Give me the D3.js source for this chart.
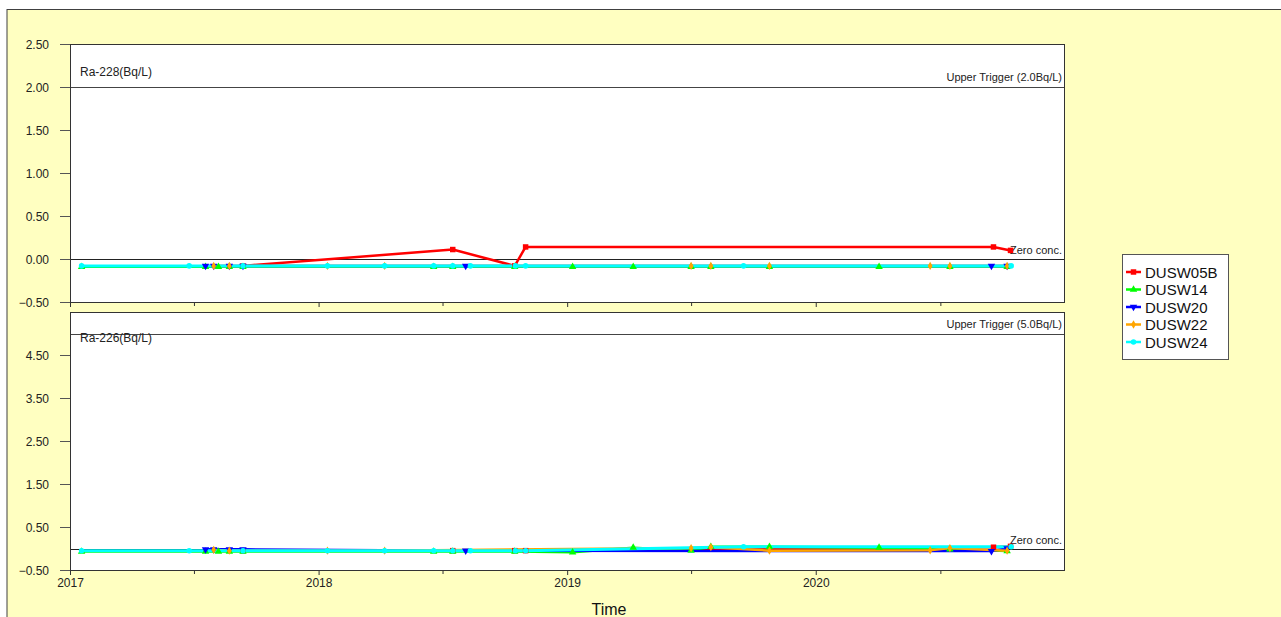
<!DOCTYPE html>
<html>
<head>
<meta charset="utf-8">
<script src="https://cdn.jsdelivr.net/npm/d3@7"></script>
<style>
  html, body { margin: 0; padding: 0; background: #ffffff; }
  svg { display: block; font-family: "Liberation Sans", Arial, sans-serif; }
</style>
</head>
<body>
<svg id="chart" width="1281" height="617"></svg>
<script>
// Sampling dates and results for each monitoring point
const seriesNames = ["DUSW05B", "DUSW14", "DUSW20", "DUSW22", "DUSW24"];
const seriesColors = ["#ff0000", "#00ff00", "#0000ff", "#ffa500", "#00ffff"];

const datesDUSW05B = ["2017-09-12", "2018-07-17", "2018-10-16", "2018-11-01", "2020-09-18", "2020-10-13"];
const ra228DUSW05B = [-0.08, 0.11, -0.08, 0.14, 0.14, 0.10];
const ra226DUSW05B = [-0.05, -0.05, -0.05, -0.05, 0.03, 0.05];

const datesDUSW14 = ["2017-01-18", "2017-07-19", "2017-08-07", "2017-08-23", "2017-09-12", "2018-06-19", "2018-07-17", "2018-10-16",
                     "2019-01-09", "2019-04-08", "2019-07-02", "2019-07-31", "2019-10-25", "2020-04-03", "2020-07-16", "2020-10-08"];
const ra228DUSW14 = [-0.09, -0.09, -0.09, -0.09, -0.09, -0.09, -0.09, -0.09, -0.09, -0.09, -0.09, -0.09, -0.09, -0.09, -0.09, -0.09];
const ra226DUSW14 = [-0.07, -0.07, -0.07, -0.07, -0.07, -0.07, -0.07, -0.07, -0.09, 0.02, -0.05, 0.04, 0.04, 0.02, -0.02, -0.06];

const datesDUSW20 = ["2017-07-19", "2017-07-31", "2017-08-23", "2017-09-12", "2018-08-05", "2020-09-15", "2020-10-08"];
const ra228DUSW20 = [-0.08, -0.08, -0.08, -0.08, -0.08, -0.08, -0.08];
const ra226DUSW20 = [-0.02, -0.02, -0.02, -0.02, -0.05, -0.06, 0.00];

const datesDUSW22 = ["2017-07-31", "2017-08-23", "2018-01-14", "2018-04-08", "2019-07-02", "2019-07-31", "2019-10-25",
                     "2020-06-17", "2020-07-16", "2020-10-08"];
const ra228DUSW22 = [-0.08, -0.08, -0.08, -0.08, -0.08, -0.08, -0.08, -0.08, -0.08, -0.08];
const ra226DUSW22 = [-0.03, -0.05, -0.05, -0.05, 0.01, 0.03, -0.05, -0.04, 0.01, -0.05];

const datesDUSW24 = ["2017-01-18", "2017-06-25", "2017-09-12", "2018-01-14", "2018-04-08", "2018-06-19", "2018-07-17",
                     "2018-08-12", "2018-10-17", "2018-11-01", "2019-09-17", "2020-10-14"];
const ra228DUSW24 = [-0.08, -0.08, -0.08, -0.08, -0.08, -0.08, -0.08, -0.08, -0.08, -0.08, -0.08, -0.08];
const ra226DUSW24 = [-0.05, -0.05, -0.05, -0.05, -0.05, -0.05, -0.05, -0.05, -0.05, -0.05, 0.04, 0.04];

const ra228Ticks = [-0.5, 0, 0.5, 1.0, 1.5, 2.0, 2.5];
const ra226Ticks = [-0.5, 0.5, 1.5, 2.5, 3.5, 4.5];
const yearTicks = ["2017-01-01", "2018-01-01", "2019-01-01", "2020-01-01"];
const halfYearTicks = ["2017-07-02", "2018-07-02", "2019-07-02", "2020-07-02"];

const panels = [
  { title: "Ra-228(Bq/L)", trigger: 2.0, triggerLabel: "Upper Trigger (2.0Bq/L)", domain: [-0.5, 2.5], ticks: ra228Ticks,
    values: [ra228DUSW05B, ra228DUSW14, ra228DUSW20, ra228DUSW22, ra228DUSW24] },
  { title: "Ra-226(Bq/L)", trigger: 5.0, triggerLabel: "Upper Trigger (5.0Bq/L)", domain: [-0.5, 5.5], ticks: ra226Ticks,
    values: [ra226DUSW05B, ra226DUSW14, ra226DUSW20, ra226DUSW22, ra226DUSW24] }
];
const dateLists = [datesDUSW05B, datesDUSW14, datesDUSW20, datesDUSW22, datesDUSW24];

const parse = d3.timeParse("%Y-%m-%d");
const svg = d3.select("#chart");

// frame
svg.append("rect").attr("x", 7).attr("y", 9.5).attr("width", 1290).attr("height", 620)
  .attr("fill", "#ffffc1").attr("stroke", "#404040").attr("stroke-width", 1);

const plotLeft = 70, plotRight = 1065;
const x = d3.scaleTime().domain([parse("2017-01-01"), parse("2021-01-01")]).range([plotLeft, plotRight]);

const panelBoxes = [{ top: 44, bottom: 302 }, { top: 312, bottom: 570 }];

const symbols = [
  { type: d3.symbolSquare, size: 30, rotate: 0 },
  { type: d3.symbolTriangle, size: 24, rotate: 0 },
  { type: d3.symbolTriangle, size: 24, rotate: 180 },
  { type: d3.symbolDiamond, size: 20, rotate: 0 },
  { type: d3.symbolCircle, size: 24, rotate: 0 }
];

panels.forEach((p, pi) => {
  const box = panelBoxes[pi];
  const y = d3.scaleLinear().domain(p.domain).range([box.bottom, box.top]);
  const g = svg.append("g");

  g.append("rect").attr("x", plotLeft).attr("y", box.top)
    .attr("width", plotRight - plotLeft).attr("height", box.bottom - box.top)
    .attr("fill", "#ffffff");

  // y axis
  const yAxis = d3.axisLeft(y).tickValues(p.ticks).tickFormat(d3.format(".2f")).tickSize(10).tickSizeOuter(0);
  const ya = g.append("g").attr("transform", `translate(${plotLeft},0)`).call(yAxis);
  ya.select(".domain").remove();
  ya.selectAll("line").attr("stroke", "#555");
  ya.selectAll("text").attr("font-size", 12).attr("fill", "#222").attr("x", -21).attr("dy", "0.35em");

  // x axis ticks
  const xMajor = d3.axisBottom(x).tickValues(yearTicks.map(parse)).tickSize(5).tickSizeOuter(0)
    .tickFormat(pi === 1 ? d3.timeFormat("%Y") : () => "");
  const xa = g.append("g").attr("transform", `translate(0,${box.bottom})`).call(xMajor);
  xa.select(".domain").remove();
  xa.selectAll("line").attr("stroke", "#333");
  xa.selectAll("text").attr("font-size", 12).attr("fill", "#222").attr("y", 8);
  const xMinor = d3.axisBottom(x).tickValues(halfYearTicks.map(parse)).tickSize(4).tickFormat(() => "");
  const xm = g.append("g").attr("transform", `translate(0,${box.bottom})`).call(xMinor);
  xm.select(".domain").remove();
  xm.selectAll("line").attr("stroke", "#333");

  // trigger line and zero line
  g.append("line").attr("x1", plotLeft).attr("x2", plotRight)
    .attr("y1", Math.round(y(p.trigger)) + 0.5).attr("y2", Math.round(y(p.trigger)) + 0.5)
    .attr("stroke", "#444").attr("stroke-width", 1);
  g.append("text").attr("x", plotRight - 3).attr("y", y(p.trigger) - 6)
    .attr("text-anchor", "end").attr("font-size", 11).attr("fill", "#222").text(p.triggerLabel);
  g.append("line").attr("x1", plotLeft).attr("x2", plotRight)
    .attr("y1", Math.round(y(0)) + 0.5).attr("y2", Math.round(y(0)) + 0.5)
    .attr("stroke", "#222").attr("stroke-width", 1);
  g.append("text").attr("x", plotRight - 3).attr("y", y(0) - 5)
    .attr("text-anchor", "end").attr("font-size", 11).attr("fill", "#222").text("Zero conc.");

  // series lines
  const line = d3.line().x(d => x(d.date)).y(d => y(d.value));
  const seriesData = p.values.map((vals, si) => dateLists[si].map((ds, k) => ({ date: parse(ds), value: vals[k] })));
  seriesData.forEach((data, si) => {
    g.append("path").datum(data).attr("d", line).attr("fill", "none")
      .attr("stroke", seriesColors[si]).attr("stroke-width", si === 4 ? 3 : 2.5)
      .attr("stroke-linejoin", "round");
  });
  seriesData.forEach((data, si) => {
    const sym = d3.symbol().type(symbols[si].type).size(symbols[si].size);
    g.selectAll(null).data(data).enter().append("path")
      .attr("d", sym)
      .attr("transform", d => `translate(${x(d.date)},${y(d.value)}) rotate(${symbols[si].rotate})`)
      .attr("fill", seriesColors[si]);
  });

  // plot border
  g.append("rect").attr("x", plotLeft + 0.5).attr("y", box.top + 0.5)
    .attr("width", plotRight - plotLeft - 1).attr("height", box.bottom - box.top)
    .attr("fill", "none").attr("stroke", "#333").attr("stroke-width", 1);

  g.append("text").attr("x", 80).attr("y", pi === 0 ? 76 : 342)
    .attr("font-size", 12).attr("fill", "#222").text(p.title);
});

// axis title
svg.append("text").attr("x", 609).attr("y", 615).attr("text-anchor", "middle")
  .attr("font-size", 16).attr("fill", "#111").text("Time");

// legend
const legend = svg.append("g");
legend.append("rect").attr("x", 1122.5).attr("y", 254.5).attr("width", 106).attr("height", 105)
  .attr("fill", "#ffffff").attr("stroke", "#555");
seriesNames.forEach((name, i) => {
  const ly = 272 + i * 17.5;
  legend.append("line").attr("x1", 1126).attr("x2", 1141).attr("y1", ly).attr("y2", ly)
    .attr("stroke", seriesColors[i]).attr("stroke-width", 2.5);
  legend.append("path").attr("d", d3.symbol().type(symbols[i].type).size(symbols[i].size)())
    .attr("transform", `translate(1133.5,${ly}) rotate(${symbols[i].rotate})`)
    .attr("fill", seriesColors[i]);
  legend.append("text").attr("x", 1145).attr("y", ly + 5.5).attr("font-size", 15)
    .attr("fill", "#111").text(name);
});
</script>
</body>
</html>
